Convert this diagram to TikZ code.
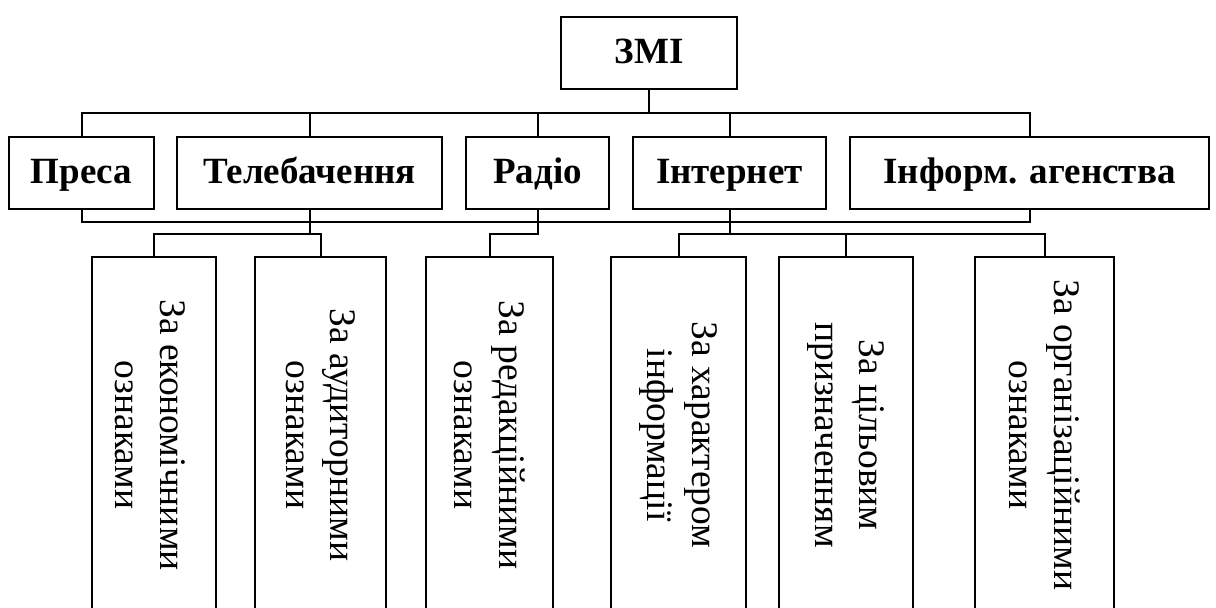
\documentclass[tikz,border=0pt]{standalone}
\usepackage{fontspec}
\setmainfont{Liberation Serif}
\begin{document}
\begin{tikzpicture}[x=1pt,y=-1pt,
  topbox/.style={draw,line width=1.5pt,inner sep=0pt,minimum height=72pt,text height=26pt,text depth=6pt,font=\bfseries\fontsize{37}{40}\selectfont},
  childbox/.style={draw,line width=1.5pt,inner sep=0pt,minimum height=356pt},
  childtext/.style={rotate=-90,align=center,inner sep=0pt,font=\fontsize{37.5}{44.5}\selectfont},
  conn/.style={line width=2pt}]
\clip (0,0) rectangle (1216,608);
\fill[white] (0,0) rectangle (1216,608);
% root
\node[topbox,minimum width=176pt] (zmi) at (649,53) {ЗМІ};
% level 1
\node[topbox,minimum width=145pt] (presa) at (81.5,173) {Преса};
\node[topbox,minimum width=265pt] (tele) at (309.5,173) {Телебачення};
\node[topbox,minimum width=143pt] (radio) at (537.5,173) {Радіо};
\node[topbox,minimum width=193pt] (inet) at (729.5,173) {Інтернет};
\node[topbox,minimum width=359pt] (inform) at (1029.5,173) {Інформ. агенства};
% level 2 boxes
\node[childbox,minimum width=124pt] (c1) at (154,435) {};
\node[childbox,minimum width=131pt] (c2) at (320.5,435) {};
\node[childbox,minimum width=127pt] (c3) at (489.5,435) {};
\node[childbox,minimum width=135pt] (c4) at (678.5,435) {};
\node[childbox,minimum width=134pt] (c5) at (846,435) {};
\node[childbox,minimum width=139pt] (c6) at (1044.5,435) {};
% level 2 texts
\node[childtext] (t1) at ([xshift=-4pt]c1.center) {За економічними\\ознаками};
\node[childtext] (t2) at (c2.center) {За аудиторними\\ознаками};
\node[childtext] (t3) at (c3.center) {За редакційними\\ознаками};
\node[childtext] (t4) at (c4.center) {За характером\\інформації};
\node[childtext] (t5) at (c5.center) {За цільовим\\призначенням};
\node[childtext] (t6) at (c6.center) {За організаційними\\ознаками};
% connectors
\coordinate (topbus) at (649,113);
\coordinate (botbus) at (649,222);
\draw[conn] (zmi.south) -- (topbus);
\draw[conn] (presa.north) |- (topbus) -| (inform.north);
\foreach \n in {tele,radio,inet} \draw[conn] (\n.north) -- (\n.north |- topbus);
\draw[conn] (presa.south) |- (botbus) -| (inform.south);
\draw[conn] (tele.south) -- ++(0,24) coordinate (tb);
\draw[conn] (c1.north) |- (tb) -| (c2.north);
\draw[conn] (radio.south) -- ++(0,24) -| (c3.north);
\draw[conn] (inet.south) -- ++(0,24) coordinate (ib);
\draw[conn] (c4.north) |- (ib) -| (c6.north);
\draw[conn] (c5.north) -- (c5.north |- ib);
\end{tikzpicture}
\end{document}
